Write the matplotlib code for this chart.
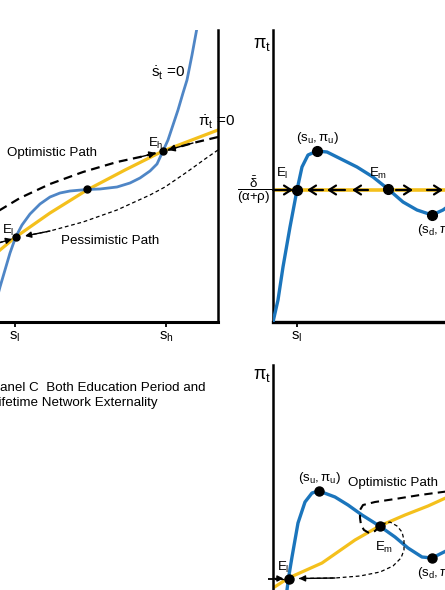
import matplotlib.pyplot as plt

plt.rcParams['font.family'] = ['Liberation Sans', 'DejaVu Sans']
plt.rcParams['mathtext.fontset'] = 'custom'
plt.rcParams['mathtext.rm'] = 'Liberation Sans'
plt.rcParams['mathtext.it'] = 'Liberation Sans'
plt.rcParams['mathtext.bf'] = 'Liberation Sans:bold'

W, H = 445, 590
BLUE_A = '#4f86c6'
BLUE = '#1b75bc'
GOLD = '#f4c01c'
FS = 9.6

# ---- Panel A (s, pi) phase diagram ----
a_sdot_s = [5.6, 6.0, 6.5, 7.0, 7.57, 8.2, 9.0, 10.0, 11.0, 12.0, 13.0, 14.7, 16.0,
            17.7, 19.0, 20.0, 21.0, 21.7, 22.3, 22.8, 23.3, 23.8, 24.3, 24.7, 25.2, 25.9]
a_sdot_pi = [2.0, 3.5, 5.2, 6.9, 8.5, 9.7, 10.8, 11.8, 12.5, 12.9, 13.1, 13.25, 13.3,
             13.5, 13.9, 14.4, 15.1, 15.8, 17.1, 18.2, 19.7, 21.2, 22.9, 24.2, 26.7, 30.5]
a_pidot_s = [5.0, 6.0, 7.57, 11.0, 14.7, 18.5, 22.3, 27.8]
a_pidot_pi = [6.3, 7.2, 8.5, 10.9, 13.2, 15.2, 17.1, 19.2]
a_opt_s = [5.5, 6.0, 8.0, 11.0, 14.3, 17.7, 20.0, 21.6]
a_opt_pi = [10.9, 11.2, 12.4, 13.8, 15.0, 16.0, 16.5, 16.9]
a_opt2_s = [27.8, 25.3, 22.8]
a_opt2_pi = [18.5, 17.9, 17.2]
a_pes_s = [27.8, 26.5, 24.7, 22.5, 21.0, 17.7, 14.3, 11.0, 8.5]
a_pes_pi = [17.2, 16.3, 15.0, 13.5, 12.7, 11.2, 10.0, 9.1, 8.6]
a_pes2_s = [5.5, 7.2]
a_pes2_pi = [7.8, 8.3]
a_eq_s = [7.57, 14.7, 22.3]
a_eq_pi = [8.5, 13.25, 17.1]
a_ticks = [7.5, 22.6]
a_ticklabels = [r'$s_l$', r'$s_h$']

# ---- Panel B ----
b_sdot_s = [0.0, 0.5, 1.0, 1.7, 2.4, 2.9, 3.5, 4.4, 5.4, 6.4, 8.4, 10.0, 11.5, 13.0,
            14.4, 15.9, 17.0, 17.7]
b_sdot_pi = [0.0, 2.2, 5.5, 9.5, 13.2, 15.5, 16.7, 17.1, 17.0, 16.5, 15.5, 14.5, 13.3,
             12.0, 11.2, 10.7, 11.2, 11.7]
b_pidot_level = 13.2
b_arrow_tail = [0.0, 5.0, 7.2, 9.5, 12.3, 15.4]
b_arrow_tip = [2.0, 3.4, 5.4, 7.9, 14.0, 17.0]
b_eq_s = [2.4, 4.4, 11.5, 15.9]
b_eq_pi = [13.2, 17.1, 13.3, 10.7]

# ---- Panel C ----
c_sdot_s = [1.2, 1.4, 1.55, 1.9, 2.5, 3.2, 3.9, 4.6, 6.2, 7.5, 8.9, 10.65, 12.2, 13.5,
            14.9, 15.9, 16.9, 17.7]
c_sdot_pi = [1.0, 3.0, 4.2, 6.3, 9.7, 11.8, 12.7, 12.9, 12.3, 11.5, 10.5, 9.4, 8.3, 7.2,
             6.3, 6.2, 6.7, 7.1]
c_pidot_s = [0.0, 1.55, 4.9, 8.2, 10.65, 13.2, 15.5, 17.7]
c_pidot_pi = [3.2, 4.2, 5.7, 8.0, 9.4, 10.5, 11.4, 12.4]
c_opt_s = [17.7, 14.7, 12.2, 10.2, 9.0, 8.7, 8.7, 8.8, 9.1, 9.6, 10.2, 10.6]
c_opt_pi = [12.9, 12.5, 12.1, 11.8, 11.5, 11.0, 10.2, 9.5, 9.0, 8.7, 8.9, 9.3]
c_pes_s = [10.9, 11.7, 12.4, 12.9, 13.1, 13.1, 12.8, 12.0, 10.7, 8.7, 6.2, 2.6]
c_pes_pi = [9.6, 9.8, 9.4, 8.8, 8.0, 7.0, 6.2, 5.4, 4.8, 4.4, 4.2, 4.15]
c_in_s = [0.1, 1.05]
c_in_pi = [4.15, 4.15]
c_eq_s = [1.55, 4.6, 10.65, 15.9]
c_eq_pi = [4.15, 12.9, 9.4, 6.2]
c_ytick = 4.15


def box(x0, y0, x1, y1):
    return fig.add_axes([x0 / W, 1 - y1 / H, (x1 - x0) / W, (y1 - y0) / H])


def head(ax, tail, tip, style='-|>', size=9, lw=1.0):
    ax.annotate('', xy=tip, xytext=tail,
                arrowprops=dict(arrowstyle=style, color='k', lw=lw,
                                mutation_scale=size, shrinkA=0, shrinkB=0))


def clean(ax, show):
    for side in ['top', 'bottom', 'left', 'right']:
        ax.spines[side].set_visible(side in show)
        ax.spines[side].set_linewidth(1.8)
    ax.set_xticks([])
    ax.set_yticks([])
    ax.tick_params(length=3.6, width=1.3, pad=2, labelsize=FS + 1)


fig = plt.figure(figsize=(4.45, 5.9), dpi=100)

# Panel A
axA = box(-60, 30, 218, 322)
axA.set_xlim(0, 27.8)
axA.set_ylim(0, 29.2)
clean(axA, ['bottom', 'right'])
axA.spines['bottom'].set_linewidth(2.2)
axA.set_xticks(a_ticks)
axA.set_xticklabels(a_ticklabels)
axA.plot(a_pidot_s, a_pidot_pi, color=GOLD, lw=2.3, zorder=2)
axA.plot(a_sdot_s, a_sdot_pi, color=BLUE_A, lw=2.0, zorder=3)
axA.plot(a_opt_s, a_opt_pi, color='k', lw=1.6, dashes=(4, 2.5), zorder=4)
head(axA, (a_opt_s[-2], a_opt_pi[-2]), (a_opt_s[-1], a_opt_pi[-1]), size=10)
axA.plot(a_opt2_s, a_opt2_pi, color='k', lw=1.6, dashes=(4, 2.5), zorder=4)
head(axA, (a_opt2_s[-2], a_opt2_pi[-2]), (a_opt2_s[-1], a_opt2_pi[-1]), size=10)
axA.plot(a_pes_s, a_pes_pi, color='k', lw=0.9, dashes=(3, 2.2), zorder=4)
head(axA, (a_pes_s[-2], a_pes_pi[-2]), (a_pes_s[-1], a_pes_pi[-1]), size=9)
axA.plot(a_pes2_s, a_pes2_pi, color='k', lw=0.9, dashes=(3, 2.2), zorder=4)
head(axA, (a_pes2_s[-2], a_pes2_pi[-2]), (a_pes2_s[-1], a_pes2_pi[-1]), size=9)
axA.plot(a_eq_s, a_eq_pi, 'o', color='k', ms=5, zorder=5)
axA.text(22.8, 24.9, r'$\dot{s}_t$ =0', fontsize=11, ha='center', va='center')
axA.text(27.7, 20.0, r'$\dot{\pi}_t$ =0', fontsize=11, ha='center', va='center', clip_on=False)
axA.text(21.6, 17.9, r'$E_h$', fontsize=FS, ha='center', va='center')
axA.text(6.15, 9.2, r'$E_l$', fontsize=FS, ha='left', va='center')
axA.text(11.2, 16.9, 'Optimistic Path', fontsize=FS, ha='center', va='center')
axA.text(17.0, 8.1, 'Pessimistic Path', fontsize=FS, ha='center', va='center')

# Panel B
axB = box(273, 30, 500, 322)
axB.set_xlim(0, 22.7)
axB.set_ylim(0, 29.2)
clean(axB, ['bottom', 'left'])
axB.spines['bottom'].set_linewidth(2.4)
axB.set_xticks([b_eq_s[0]])
axB.set_xticklabels([r'$s_l$'])
axB.axhline(b_pidot_level, color=GOLD, lw=2.6, zorder=2)
axB.plot(b_sdot_s, b_sdot_pi, color=BLUE, lw=2.4, zorder=3)
for t0, t1 in zip(b_arrow_tail, b_arrow_tip):
    head(axB, (t0, b_pidot_level), (t1, b_pidot_level),
         style='->, head_length=0.5, head_width=0.32', size=10, lw=1.6)
axB.plot(b_eq_s, b_eq_pi, 'o', color='k', ms=7, zorder=5)
axB.text(-1.1, 27.7, r'$\pi_t$', fontsize=13, ha='center', va='center')
axB.text(-1.9, b_pidot_level, r'$\dfrac{\bar{\delta}}{(\alpha{+}\rho)}$', fontsize=FS,
         ha='center', va='center')
axB.text(4.45, 18.4, r'$(s_u,\pi_u)$', fontsize=FS, ha='center', va='center')
axB.text(0.95, 14.9, r'$E_l$', fontsize=FS, ha='center', va='center')
axB.text(10.5, 14.9, r'$E_m$', fontsize=FS, ha='center', va='center')
axB.text(14.4, 9.2, r'$(s_d,\pi_d)$', fontsize=FS, ha='left', va='center')

# Panel C
axC = box(273, 365, 500, 620)
axC.set_xlim(0, 22.7)
axC.set_ylim(0, 25.5)
clean(axC, ['bottom', 'left'])
axC.set_yticks([c_ytick])
axC.set_yticklabels([''])
axC.plot(c_pidot_s, c_pidot_pi, color=GOLD, lw=2.3, zorder=2)
axC.plot(c_sdot_s, c_sdot_pi, color=BLUE, lw=2.4, zorder=3)
axC.plot(c_opt_s, c_opt_pi, color='k', lw=1.5, dashes=(4, 2.5), zorder=4)
axC.plot(c_pes_s, c_pes_pi, color='k', lw=0.9, dashes=(3, 2.2), zorder=4)
head(axC, (c_pes_s[-2], c_pes_pi[-2]), (c_pes_s[-1], c_pes_pi[-1]), size=9)
axC.plot(c_in_s, c_in_pi, color='k', lw=0.9, dashes=(3, 2.2), zorder=4)
head(axC, (c_in_s[0], c_in_pi[0]), (c_in_s[1], c_in_pi[1]), size=9)
axC.plot(c_eq_s, c_eq_pi, 'o', color='k', ms=6.5, zorder=5)
axC.text(-1.1, 24.5, r'$\pi_t$', fontsize=13, ha='center', va='center')
axC.text(4.7, 14.2, r'$(s_u,\pi_u)$', fontsize=FS, ha='center', va='center')
axC.text(12.0, 13.7, 'Optimistic Path', fontsize=FS, ha='center', va='center')
axC.text(11.1, 7.3, r'$E_m$', fontsize=FS, ha='center', va='center')
axC.text(1.0, 5.3, r'$E_l$', fontsize=FS, ha='center', va='center')
axC.text(14.4, 4.7, r'$(s_d,\pi_d)$', fontsize=FS, ha='left', va='center')

fig.text(-8.9 / W, 1 - 388 / H, 'Panel C  Both Education Period and', fontsize=FS,
         ha='left', va='center')
fig.text(-8.9 / W, 1 - 403 / H, 'Lifetime Network Externality', fontsize=FS,
         ha='left', va='center')

fig.savefig('out.png', dpi=100)
